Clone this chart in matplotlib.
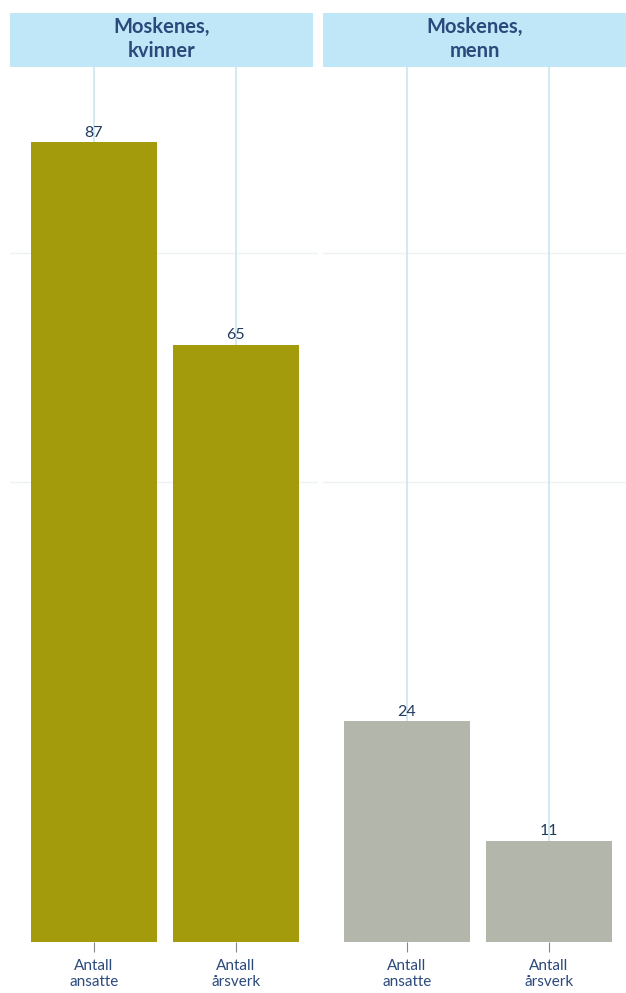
import matplotlib
matplotlib.use("Agg")
import matplotlib.pyplot as plt

panels = ["Moskenes,\nkvinner", "Moskenes,\nmenn"]
categories = ["Antall\nansatte", "Antall\nårsverk"]
values_kvinner = [87, 65]
values_menn = [24, 11]
series = [values_kvinner, values_menn]
colors = ["#a39b0c", "#b3b6aa"]

plt.rcParams['font.family'] = ['Lato', 'DejaVu Sans']
W, H = 626, 993
fig = plt.figure(figsize=(W / 100, H / 100), dpi=100)
fig.patch.set_facecolor("white")

bottom_px, top_px, head_top = 942, 67, 13
panel_lefts = [10, 323]
panel_w = 308
text_col = "#2b4a7c"

for i, (name, vals) in enumerate(zip(panels, series)):
    x0 = panel_lefts[i]
    ax = fig.add_axes([x0 / W, 1 - bottom_px / H, panel_w / W, (bottom_px - top_px) / H])
    ax.set_xlim(-0.59, 1.58)
    ax.set_ylim(0, 95.2)
    xs = list(range(len(categories)))
    for y in [50, 75]:
        ax.axhline(y, color="#edf1f3", lw=1, zorder=0)
    for x, v in zip(xs, vals):
        ax.vlines(x, v, 95.2, color="#cce6f1", lw=1.2, zorder=0)
    ax.bar(xs, vals, width=0.887, color=colors[i], zorder=2)
    for x, v in zip(xs, vals):
        ax.text(x, v + 0.3, str(v), ha="center", va="bottom", fontsize=11.5,
                color="#243b5e", zorder=3)
    ax.set_xticks(xs)
    ax.set_xticklabels(categories, fontsize=11, color=text_col, linespacing=1.2)
    ax.tick_params(axis="x", length=7, color="#888888", pad=5)
    ax.set_yticks([])
    for s in ax.spines.values():
        s.set_visible(False)
    hax = fig.add_axes([x0 / W, 1 - top_px / H, (panel_w - 5) / W, (top_px - head_top) / H])
    hax.set_facecolor("#bfe7f8")
    hax.set_xticks([]); hax.set_yticks([])
    for s in hax.spines.values():
        s.set_visible(False)
    hax.text(0.5, 0.52, name, ha="center", va="center", fontsize=14.5, fontweight="bold",
             color=text_col, transform=hax.transAxes, linespacing=1.2)

fig.savefig("out.png", dpi=100)
